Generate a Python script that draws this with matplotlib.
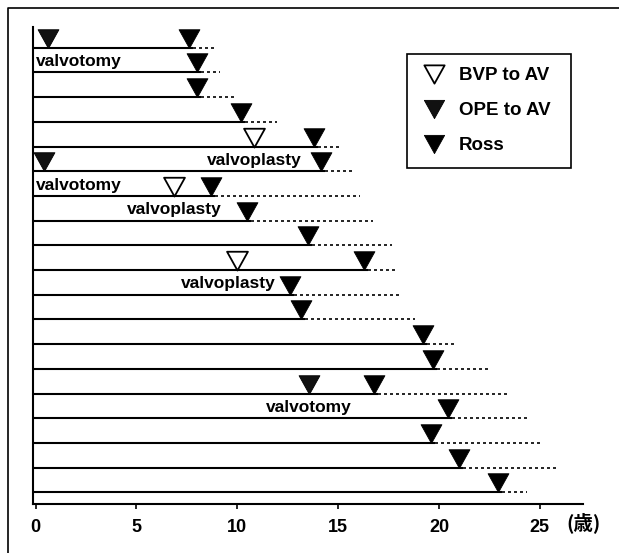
import matplotlib
matplotlib.use('Agg')
import matplotlib.pyplot as plt
from matplotlib.lines import Line2D
from matplotlib.path import Path

# ---------------- data ----------------
rows = list(range(1, 20))
ross_age = [7.62, 7.99, 8.02, 10.17, 13.8, 14.15, 8.7, 10.5, 13.52, 16.3,
            12.61, 13.14, 19.19, 19.72, 16.78, 20.46, 19.6, 21.0, 22.94]
followup_end = [8.89, 9.14, 9.97, 11.95, 15.09, 15.67, 16.07, 16.73, 17.65, 17.9,
                18.15, 18.8, 20.88, 22.6, 23.36, 24.4, 25.15, 25.97, 24.35]

bvp_rows = [5, 7, 10]
bvp_age = [10.83, 6.86, 10.0]

ope_rows = [1, 6, 15]
ope_age = [0.63, 0.43, 13.55]

label_rows = [1, 5, 6, 7, 10, 15]
label_x = [0.0, 10.83, 0.0, 6.86, 9.54, 13.55]
label_text = ['valvotomy', 'valvoplasty', 'valvotomy', 'valvoplasty', 'valvoplasty', 'valvotomy']
label_align = ['left', 'center', 'left', 'center', 'center', 'center']

xticks = [0, 5, 10, 15, 20, 25]
xticklabels = ['0', '5', '10', '15', '20', '25']
unit_label = '(歳)'
legend_labels = ['BVP to AV', 'OPE to AV', 'Ross']

# ---------------- style ----------------
W, H = 619, 553
fig = plt.figure(figsize=(W / 100, H / 100), dpi=100)
ax = fig.add_axes([32.5 / W, 49 / H, (583 - 32.5) / W, (504 - 27) / H])
XMIN, XMAX = -0.155, 27.14
ax.set_xlim(XMIN, XMAX)
ax.set_ylim(19.47, 0.16)

SOLID_OVER = 0.2
tip_marker = Path([(-1, 1.8), (1, 1.8), (0, 0), (-1, 1.8)],
                  [Path.MOVETO, Path.LINETO, Path.LINETO, Path.CLOSEPOLY])
leg_marker = Path([(-1, 0.9), (1, 0.9), (0, -0.9), (-1, 0.9)],
                  [Path.MOVETO, Path.LINETO, Path.LINETO, Path.CLOSEPOLY])
MS = 27

for r, ra, fe in zip(rows, ross_age, followup_end):
    ax.plot([XMIN, ra + SOLID_OVER], [r, r], color='black', lw=1.5,
            solid_capstyle='butt', zorder=2)
    ax.plot([ra + SOLID_OVER, fe], [r, r], color='black', lw=1.2,
            ls=(0, (1.8, 1.8)), zorder=2)

ax.plot(ross_age, rows, ls='none', marker=tip_marker, ms=MS,
        mfc='black', mec='black', mew=0.6, zorder=4)
ax.plot(ope_age, ope_rows, ls='none', marker=tip_marker, ms=MS,
        mfc='#111111', mec='black', mew=0.6, zorder=4)
ax.plot(bvp_age, bvp_rows, ls='none', marker=tip_marker, ms=MS,
        mfc='white', mec='black', mew=1.3, zorder=4)

for r, x, t, a in zip(label_rows, label_x, label_text, label_align):
    ax.text(x, r + 0.74, t, ha=a, va='baseline', fontsize=12.5,
            fontweight='bold', family='Liberation Sans', zorder=5)

ax.set_xticks(xticks)
ax.set_xticklabels(xticklabels, fontsize=13, fontweight='bold', family='Liberation Sans')
ax.tick_params(axis='x', direction='out', length=3.6, width=1.2, pad=7.5)
ax.set_yticks([])
for s in ['top', 'right']:
    ax.spines[s].set_visible(False)
for s in ['left', 'bottom']:
    ax.spines[s].set_linewidth(1.5)

fig.text(584 / W, 1 - 523 / H, unit_label, ha='center', va='center',
         fontsize=14, fontweight='bold', family=['Noto Sans CJK JP', 'DejaVu Sans'])

handles = [
    Line2D([], [], ls='none', marker=leg_marker, ms=14.6, mfc='white', mec='black', mew=1.3),
    Line2D([], [], ls='none', marker=leg_marker, ms=14.6, mfc='#111111', mec='black', mew=0.6),
    Line2D([], [], ls='none', marker=leg_marker, ms=14.6, mfc='black', mec='black', mew=0.6),
]
leg = ax.legend(handles, legend_labels, loc='upper left',
                bbox_to_anchor=(407 / W, 1 - 167 / H, 164 / W, 113 / H),
                bbox_transform=fig.transFigure, mode='expand',
                borderaxespad=0, frameon=True, fancybox=False, framealpha=1,
                edgecolor='black', prop=dict(family='Liberation Sans', weight='bold', size=13.5),
                handlelength=1.42, handletextpad=0.65, borderpad=0.71, labelspacing=0.95)
leg.get_frame().set_linewidth(1.2)

# outer frame (left and top edges)
fig.add_artist(Line2D([8 / W, 8 / W, 1], [0, 1 - 7.5 / H, 1 - 7.5 / H],
                      transform=fig.transFigure, color='black', lw=1.2))

fig.savefig('out.png', dpi=100)
